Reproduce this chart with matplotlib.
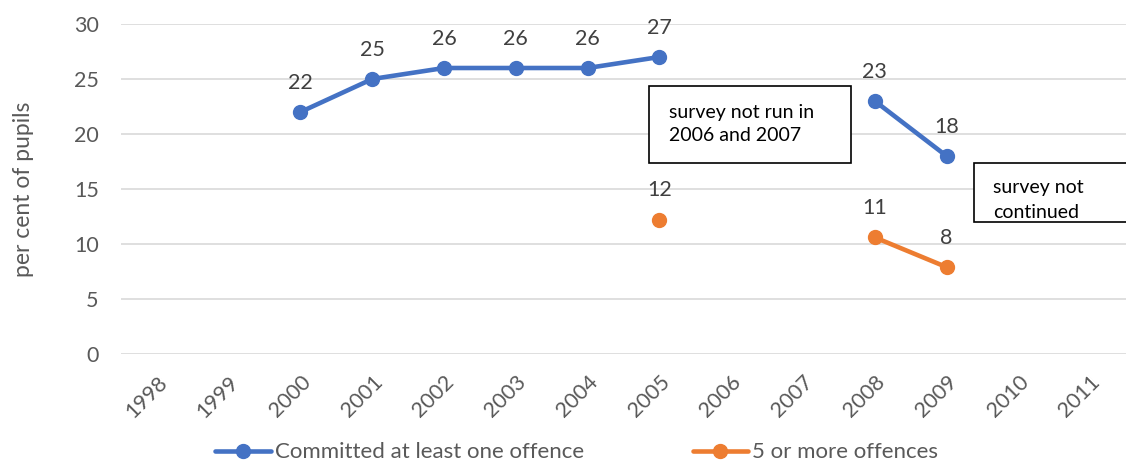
import numpy as np
import matplotlib.pyplot as plt
from matplotlib.patches import Rectangle

years = ["1998", "1999", "2000", "2001", "2002", "2003", "2004",
         "2005", "2006", "2007", "2008", "2009", "2010", "2011"]
one_offence = [np.nan, np.nan, 22, 25, 26, 26, 26, 27, np.nan, np.nan, 23, 18, np.nan, np.nan]
five_offences = [np.nan, np.nan, np.nan, np.nan, np.nan, np.nan, np.nan, 12.2, np.nan, np.nan, 10.6, 7.9, np.nan, np.nan]
series_names = ["Committed at least one offence", "5 or more offences"]
note1 = "survey not run in\n2006 and 2007"
note2 = "survey not\ncontinued"

plt.rcParams['font.family'] = ['Lato', 'DejaVu Sans']
grey = '#595959'
blue = '#4472C4'
orange = '#ED7D31'

fig = plt.figure(figsize=(11.26, 4.66), dpi=100)
ax = fig.add_axes([121/1126, (466-354)/466, (1126-121)/1126, (354-24)/466])

x = np.arange(len(years))
ax.plot(x, one_offence, color=blue, lw=3.3, marker='o', ms=10, label=series_names[0], solid_capstyle='round')
ax.plot(x, five_offences, color=orange, lw=3.3, marker='o', ms=10, label=series_names[1], solid_capstyle='round')

for xs, vals in ((x, one_offence), (x, five_offences)):
    for xi, v in zip(xs, vals):
        if not np.isnan(v):
            ax.annotate(f"{v:.0f}", (xi, v), xytext=(0, 14), textcoords='offset points',
                        ha='center', va='bottom', fontsize=15.5, color='#404040')

ax.set_xlim(-0.5, len(years) - 0.5)
ax.set_ylim(0, 30)
ax.set_yticks([0, 5, 10, 15, 20, 25, 30])
ax.set_xticks(x)
ax.set_xticklabels(years, rotation=45, ha='right', rotation_mode='anchor')
ax.tick_params(axis='both', length=0, colors=grey, labelsize=15.5)
ax.tick_params(axis='y', pad=16)
ax.tick_params(axis='x', pad=13)
ax.grid(axis='y', color='#d9d9d9', lw=1.2)
ax.set_axisbelow(True)
for s in ax.spines.values():
    s.set_visible(False)
ax.set_ylabel("per cent of pupils", fontsize=16.5, color=grey, labelpad=29)

# notes (figure pixel coordinates)
def px(xp, yp):
    return xp / 1126, (466 - yp) / 466

r1 = Rectangle(px(649, 163), 202/1126, 77/466, transform=fig.transFigure,
               fill=True, facecolor='white', edgecolor='black', lw=1.2, zorder=5)
fig.add_artist(r1)
fig.text(*px(669, 124), note1, fontsize=14, color='black', ha='left', va='center',
         linespacing=1.45, zorder=6)

r2 = Rectangle(px(974, 222), 200/1126, 59/466, transform=fig.transFigure,
               fill=True, facecolor='white', edgecolor='black', lw=1.2, zorder=5)
fig.add_artist(r2)
t2 = fig.text(*px(993, 200), note2, fontsize=14, color='black', ha='left', va='center',
              linespacing=1.6, zorder=6)
t2.set_clip_path(r2)

leg = fig.legend(loc='lower center', bbox_to_anchor=(0.512, -0.035), ncol=2, frameon=False,
                 fontsize=16, handlelength=2.5, handletextpad=0.18, columnspacing=4.9)
for t in leg.get_texts():
    t.set_color(grey)

fig.savefig("out.png", dpi=100)
